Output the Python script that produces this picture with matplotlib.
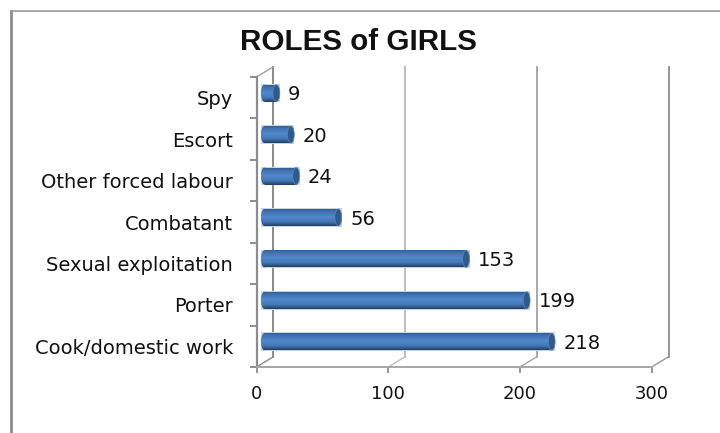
# -*- encoding: utf-8 -*-
import numpy as np
from matplotlib import pyplot as plt
from matplotlib.colors import LinearSegmentedColormap
from matplotlib.lines import Line2D
from matplotlib.patches import Ellipse, Rectangle

roles = ["Cook/domestic work", "Porter", "Sexual exploitation", "Combatant",
         "Other forced labour", "Escort", "Spy"]
counts = [218, 199, 153, 56, 24, 20, 9]
x_ticks = [0, 100, 200, 300]

# depth of the fake 3d box, in axis units
back_dx = 12.9
back_dy = 0.25
bar_dx = 6.1
bar_dy = 0.11
bar_h = 0.41
cap_w = 5.2

f1 = plt.figure(figsize=(7.2, 4.33), dpi=100)
ax1 = f1.add_axes([256.5 / 720, 1 - 367 / 433, 395.2 / 720, 290 / 433])

cyl = LinearSegmentedColormap.from_list(
    "cyl", [(0, "#31609a"), (0.15, "#4273b3"), (0.45, "#5089cc"), (0.75, "#4578b4"),
            (0.9, "#30588a"), (1, "#223f66")])
grad = np.linspace(0, 1, 32).reshape(-1, 1)

# back wall
wall_cols = ["#8a8a8a", "#bdbdbd", "#a8a8a8", "#969696"]
for v, c in zip(x_ticks, wall_cols):
    ax1.plot([v + back_dx] * 2, [-0.5 + back_dy, 6.5 + back_dy], color=c, lw=1.4, clip_on=False, zorder=1)
    ax1.plot([v, v + back_dx], [-0.5, -0.5 + back_dy], color=c, lw=1.0, clip_on=False, zorder=1)
ax1.plot([0, back_dx], [6.5, 6.5 + back_dy], color="#a0a0a0", lw=1.0, clip_on=False, zorder=1)

# bars
for i, (r, n) in enumerate(zip(roles, counts)):
    x0 = bar_dx
    x1 = n + bar_dx
    yc = i + bar_dy
    halo = Rectangle((x0 - cap_w / 2, yc - bar_h / 2 - 0.02), n + cap_w, bar_h + 0.04,
                     facecolor="#c9d3e2", edgecolor="none", zorder=2, clip_on=False)
    ax1.add_patch(halo)
    body = ax1.barh(i, n, height=bar_h, left=x0, color="#4a7fbe", zorder=3)[0]
    body.set_y(yc - bar_h / 2)
    left_cap = Ellipse((x0, yc), cap_w, bar_h, facecolor="#4a7fbe", edgecolor="none", zorder=3)
    ax1.add_patch(left_cap)
    for p in (body, left_cap):
        im = ax1.imshow(grad, cmap=cyl, aspect="auto", zorder=4, origin="upper",
                        extent=(x0 - cap_w, x1, yc - bar_h / 2, yc + bar_h / 2))
        im.set_clip_path(p)
    ax1.add_patch(Ellipse((x1, yc), cap_w, bar_h, facecolor="#2f5a8e", edgecolor="#5f86b5",
                          lw=0.5, zorder=5))
    ax1.text(n + 15, i + 0.07, str(n), fontsize=14, color="#111111", va="center", ha="left",
             family="DejaVu Sans", zorder=6)

ax1.set_xlim(0, 300)
ax1.set_ylim(-0.5, 6.5)
ax1.patch.set_visible(False)

ax1.set_xticks(x_ticks)
ax1.set_yticks(np.arange(-0.5, 7, 1))
ax1.set_yticklabels([])
ax1.set_yticks(np.arange(len(roles)), labels=roles, minor=True)
ax1.tick_params(axis="y", which="major", length=5, width=1.4, color="#8c8c8c")
ax1.tick_params(axis="y", which="minor", length=0, pad=17, labelsize=14, labelcolor="#111111")
ax1.tick_params(axis="x", length=4, width=1.4, color="#969696", pad=9, labelsize=13, labelcolor="#111111")

for s in ("top", "right"):
    ax1.spines[s].set_visible(False)
ax1.spines["left"].set_color("#8c8c8c")
ax1.spines["left"].set_linewidth(1.6)
ax1.spines["bottom"].set_color("#a6a6a6")
ax1.spines["bottom"].set_linewidth(1.4)

f1.text(358.5 / 720, 1 - 42 / 433, "ROLES of GIRLS", fontsize=21.3, fontweight="bold",
        family="Liberation Sans", ha="center", va="center", color="#111111")

# outer frame of the pasted picture
f1.add_artist(Line2D([11.3 / 720] * 2, [0, 1 - 10.5 / 433], color="#8c8c8c", lw=2.0))
f1.add_artist(Line2D([10.5 / 720, 1], [1 - 11 / 433] * 2, color="#9a9a9a", lw=1.2))

f1.savefig("out.png", dpi=100)
